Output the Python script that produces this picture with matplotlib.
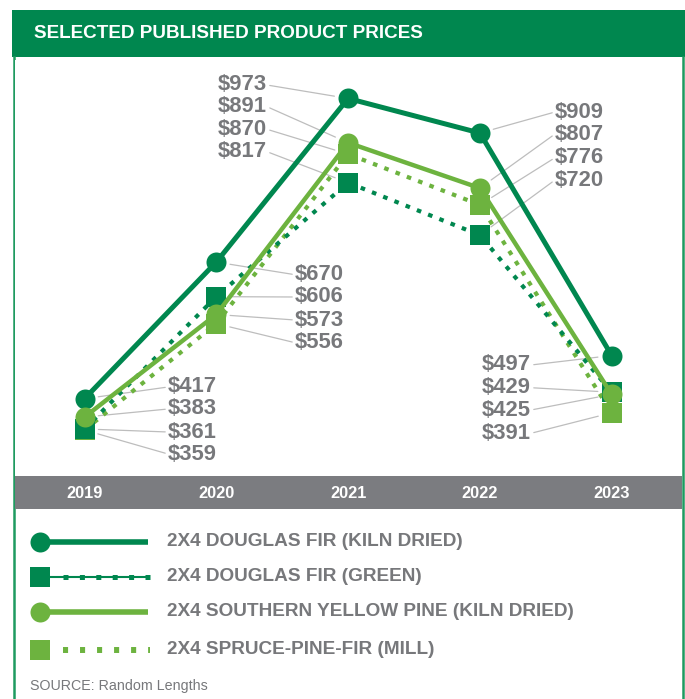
import matplotlib
matplotlib.use("Agg")
import matplotlib.pyplot as plt
from matplotlib.patches import Rectangle
from matplotlib.lines import Line2D

plt.rcParams['font.family'] = ['Liberation Sans', 'DejaVu Sans']

# ---------------- data ----------------
years = ["2019", "2020", "2021", "2022", "2023"]
series_names = [
    "2X4 DOUGLAS FIR (KILN DRIED)",
    "2X4 DOUGLAS FIR (GREEN)",
    "2X4 SOUTHERN YELLOW PINE (KILN DRIED)",
    "2X4 SPRUCE-PINE-FIR (MILL)",
]
douglas_fir_kd = [417, 670, 973, 909, 497]
douglas_fir_green = [361, 606, 817, 720, 429]
syp_kd = [383, 573, 891, 807, 425]
spf_mill = [359, 556, 870, 776, 391]
title = "SELECTED PUBLISHED PRODUCT PRICES"
source = "SOURCE: Random Lengths"

# ---------------- style ----------------
DARK = "#00874F"
LIGHT = "#6DB33F"
GRAY_TXT = "#77787B"
BAND = "#7B7C80"
LEADER = "#BDBDBD"
BORDER = "#1E9A60"

W, H = 685, 699
fig = plt.figure(figsize=(W / 100, H / 100), dpi=100)
fig.patch.set_facecolor("white")

def fx(px):
    return px / W

def fy(py):
    return 1 - py / H

# header bar
fig.add_artist(Rectangle((fx(12), fy(57)), fx(673), 47 / H, transform=fig.transFigure,
                         facecolor=DARK, edgecolor="none", zorder=-2))
fig.text(fx(34), fy(34), title, color="white", fontsize=13.6, fontweight="bold",
         va="center", ha="left")

# side borders
for xb in (14, 683):
    fig.add_artist(Line2D([fx(xb), fx(xb)], [fy(57), 0], transform=fig.transFigure,
                          color=BORDER, lw=1.8, zorder=-2))

# gray band for the years
fig.add_artist(Rectangle((fx(15), fy(509)), fx(667), 33 / H, transform=fig.transFigure,
                         facecolor=BAND, edgecolor="none", zorder=-1))

# main axes
ax_top, ax_bot = 60, 476
ax = fig.add_axes([fx(15), fy(ax_bot), fx(667), (ax_bot - ax_top) / H])
ax.set_facecolor("white")
x = list(range(len(years)))
ax.set_xlim((15 - 84.5) / 131.8, (682 - 84.5) / 131.8)
ax.set_ylim(273.9, 1044.2)
for s in ax.spines.values():
    s.set_visible(False)
ax.set_yticks([])
ax.set_xticks(x)
ax.set_xticklabels(years)
ax.tick_params(axis="x", length=0, pad=12.3, labelcolor="white", labelsize=11.8)
for lbl in ax.get_xticklabels():
    lbl.set_fontweight("bold")
    lbl.set_va("center")

values = [douglas_fir_kd, douglas_fir_green, syp_kd, spf_mill]
colors = [DARK, DARK, LIGHT, LIGHT]
styles = ["-", (0, (1.1, 1.8)), "-", (0, (1.1, 1.8))]
widths = [3.6, 3.0, 3.2, 3.0]
markers = ["o", "s", "o", "s"]
msizes = [14.4, 14.0, 14.4, 14.0]
zorders = [3, 4, 5, 2]

for vals, c, ls, lw, m, ms, z in zip(values, colors, styles, widths, markers, msizes, zorders):
    ax.plot(x, vals, color=c, ls=ls, lw=lw, marker=m, ms=ms, markeredgewidth=0,
            zorder=z, solid_capstyle="butt", dash_capstyle="butt", clip_on=False)

# value labels with leader lines
label_x = [168, 295, 267, 555, 531]
label_ha = ["left", "left", "right", "left", "right"]
label_y = [[387, 409, 432, 454],
           [274.7, 297, 320, 342.7],
           [85, 106.7, 129.3, 151.7],
           [112, 134, 157.7, 180],
           [365, 387.7, 410, 433.3]]

for i in x:
    order = sorted(range(len(values)), key=lambda k: -values[k][i])
    for slot, k in enumerate(order):
        v = values[k][i]
        rel = (0, 0.5) if label_ha[i] == "left" else (1, 0.5)
        ax.annotate(f"${v}", xy=(i, v), xycoords="data",
                    xytext=(label_x[i], H - label_y[i][slot]), textcoords="figure pixels",
                    ha=label_ha[i], va="center", fontsize=15.8, fontweight="bold",
                    color=GRAY_TXT, zorder=1,
                    arrowprops=dict(arrowstyle="-", color=LEADER, lw=0.9,
                                    shrinkA=0, shrinkB=10, relpos=rel))

# legend (overlay axes in pixel layout)
lg = fig.add_axes([0, 0, 1, 1])
lg.set_xlim(0, W)
lg.set_ylim(H, 0)
lg.axis("off")
lg.patch.set_visible(False)
leg_y = [541.7, 576.7, 611.7, 650]
x0, x1 = 40, 148
# DF KD
lg.plot([x0, x1], [leg_y[0]] * 2, color=DARK, lw=4.0, solid_capstyle="butt")
lg.plot([x0], [leg_y[0]], marker="o", ms=14.4, color=DARK, mew=0)
# DF green
lg.plot([x0, x1], [leg_y[1]] * 2, color=DARK, lw=1.5, solid_capstyle="butt")
lg.plot([x0 + 23, x1 + 2], [leg_y[1]] * 2, color=DARK, lw=3.6, ls=(0, (1, 2.28)),
        dash_capstyle="butt")
lg.plot([x0], [leg_y[1]], marker="s", ms=14.0, color=DARK, mew=0)
# SYP
lg.plot([x0, x1], [leg_y[2]] * 2, color=LIGHT, lw=4.0, solid_capstyle="butt")
lg.plot([x0], [leg_y[2]], marker="o", ms=14.4, color=LIGHT, mew=0)
# SPF
lg.plot([x0 + 23, x1 + 2], [leg_y[3]] * 2, color=LIGHT, lw=4.3, ls=(0, (0.85, 2.0)),
        dash_capstyle="butt")
lg.plot([x0], [leg_y[3]], marker="s", ms=14.0, color=LIGHT, mew=0)

for name, yy in zip(series_names, leg_y):
    lg.text(167, yy, name, fontsize=13.7, fontweight="bold", color=GRAY_TXT,
            va="center", ha="left")

lg.text(30, 686, source, fontsize=10.3, color=GRAY_TXT, va="center", ha="left")

fig.savefig("out.png", dpi=100)
